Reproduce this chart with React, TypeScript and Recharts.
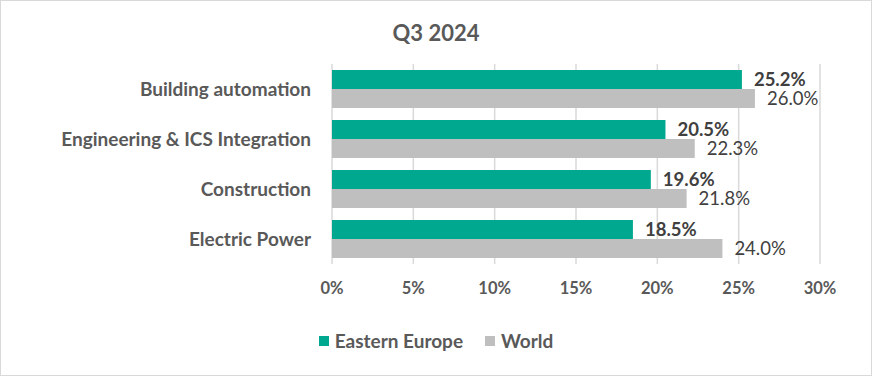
import React from 'react';
import { BarChart, Bar, XAxis, YAxis, CartesianGrid, LabelList, Legend } from 'recharts';

// ─── データ ─────────────────────────────────────────────────────────────────

const CATEGORIES = ['Building automation', 'Engineering & ICS Integration', 'Construction', 'Electric Power'];
const EASTERN_EUROPE = [25.2, 20.5, 19.6, 18.5];
const WORLD = [26.0, 22.3, 21.8, 24.0];
const X_TICKS = [0, 5, 10, 15, 20, 25, 30];

const SERIES = [
  { key: 'ee', name: 'Eastern Europe', color: '#00A88F' },
  { key: 'world', name: 'World', color: '#BFBFBF' },
];

const data = CATEGORIES.map((name, i) => ({ name, ee: EASTERN_EUROPE[i], world: WORLD[i] }));

const FONT = 'Lato, "Open Sans", sans-serif';
const fmt = (v: number) => `${v.toFixed(1)}%`;

function LegendContent() {
  return (
    <div style={{ display: 'flex', justifyContent: 'center', gap: 22, fontFamily: FONT, fontSize: 19, fontWeight: 700, color: '#595959' }}>
      {SERIES.map((s) => (
        <div key={s.key} style={{ display: 'flex', alignItems: 'center', gap: 6 }}>
          <span style={{ display: 'inline-block', width: 10, height: 10, background: s.color }} />
          <span>{s.name}</span>
        </div>
      ))}
    </div>
  );
}

export default function App() {
  return (
    <div
      style={{
        position: 'fixed',
        top: 0,
        left: 0,
        width: 872,
        height: 376,
        boxSizing: 'border-box',
        border: '1px solid #d9d9d9',
        background: '#fff',
        fontFamily: FONT,
      }}
    >
      <div
        style={{
          position: 'absolute',
          top: 18,
          left: 0,
          width: 870,
          textAlign: 'center',
          fontSize: 22,
          fontWeight: 700,
          color: '#595959',
        }}
      >
        Q3 2024
      </div>
      <div style={{ position: 'absolute', top: -1, left: -1 }}>
        <BarChart
          width={872}
          height={376}
          data={data}
          layout="vertical"
          margin={{ top: 64, right: 52, bottom: 82, left: 0 }}
          barSize={19}
          barGap={0}
        >
          <CartesianGrid horizontal={false} stroke="#d9d9d9" strokeWidth={1.5} />
          <XAxis
            type="number"
            domain={[0, 30]}
            ticks={X_TICKS}
            tickFormatter={(v) => `${v}%`}
            axisLine={false}
            tickLine={false}
            tickSize={0}
            tickMargin={18}
            height={30}
            tick={{ fill: '#595959', fontSize: 16.5, fontWeight: 700, fontFamily: FONT }}
          />
          <YAxis
            type="category"
            dataKey="name"
            width={332}
            axisLine={false}
            tickLine={false}
            tickSize={0}
            tickMargin={21}
            tick={{ fill: '#595959', fontSize: 19, fontWeight: 700, fontFamily: FONT }}
          />
          <Legend verticalAlign="middle" align="center" wrapperStyle={{ top: 329, left: 0, width: 872 }} content={<LegendContent />} />
          <Bar dataKey="ee" name="Eastern Europe" fill="#00A88F" isAnimationActive={false}>
            <LabelList dataKey="ee" position="right" offset={12} formatter={(v: number) => fmt(v)} style={{ fill: '#404040', fontSize: 18.5, fontWeight: 700, fontFamily: FONT }} />
          </Bar>
          <Bar dataKey="world" name="World" fill="#BFBFBF" isAnimationActive={false}>
            <LabelList dataKey="world" position="right" offset={12} formatter={(v: number) => fmt(v)} style={{ fill: '#404040', fontSize: 18.5, fontWeight: 400, fontFamily: FONT }} />
          </Bar>
        </BarChart>
      </div>
    </div>
  );
}
